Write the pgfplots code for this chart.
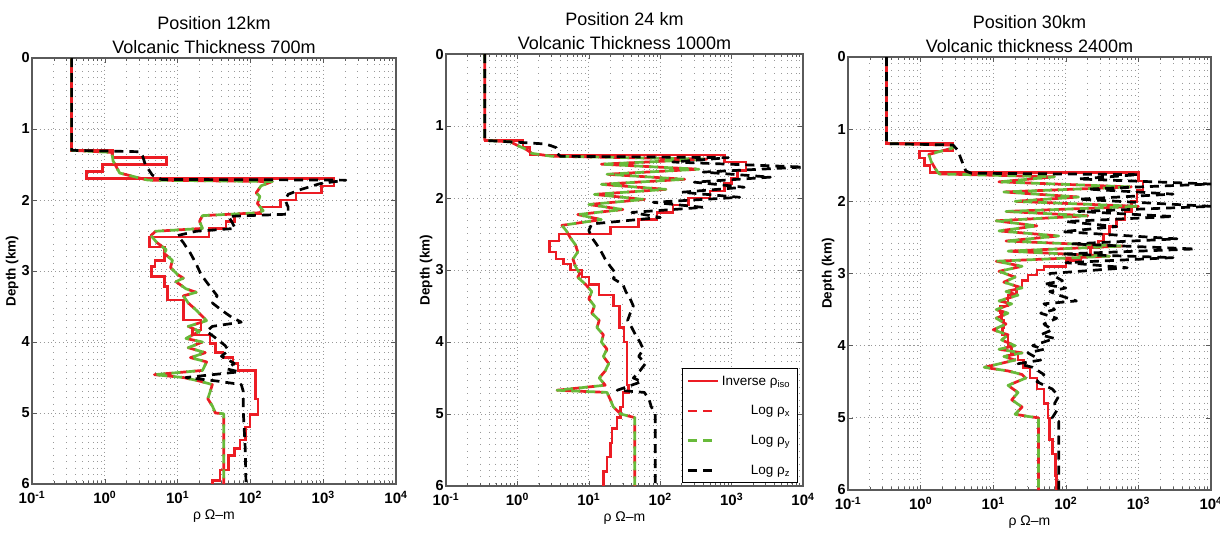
\documentclass[border=0pt]{standalone}
\usepackage{fontspec}
\setmainfont{Liberation Sans}
\usepackage{pgfplots}
\pgfplotsset{compat=1.18}
\definecolor{mred}{RGB}{236,28,36}
\definecolor{mgreen}{RGB}{104,186,58}
\definecolor{axgray}{RGB}{90,90,90}
\pgfplotsset{
  myprofile/.style={
    scale only axis, xmin=0.1, xmax=10000, ymin=0, ymax=6, y dir=reverse,
    xtick={0.1,1,10,100,1000,10000},
    xticklabels={10\textsuperscript{-1},10\textsuperscript{0},10\textsuperscript{1},10\textsuperscript{2},10\textsuperscript{3},10\textsuperscript{4}},
    minor xtick={0.2,0.3,0.4,0.5,0.6,0.7,0.8,0.9,2,3,4,5,6,7,8,9,20,30,40,50,60,70,80,90,200,300,400,500,600,700,800,900,2000,3000,4000,5000,6000,7000,8000,9000},
    ytick={0,1,2,3,4,5,6},
    yticklabels={0,1,2,3,4,5,6},
    yticklabel style={font=\bfseries\fontsize{14.5}{14.5}\selectfont, inner sep=2pt},
    xticklabel style={font=\bfseries\fontsize{15}{15}\selectfont, inner sep=2pt, yshift=-5pt},
    xmajorgrids, xminorgrids, ymajorgrids,
    major grid style={gray!80, line width=0.9pt, dash pattern=on 0.9pt off 3pt},
    minor grid style={gray!80, line width=0.9pt, dash pattern=on 0.9pt off 5.5pt},
    tick align=inside, major tick length=5pt, minor tick length=3pt,
    tick style={axgray, line width=0.6pt},
    axis line style={axgray, line width=1.2pt},
    xlabel={ρ Ω–m}, ylabel={Depth (km)},
    xlabel style={font=\fontsize{14}{14}\selectfont, inner sep=1pt, yshift=-3pt},
    ylabel style={font=\bfseries\fontsize{13.5}{14}\selectfont, inner sep=1pt},
    title style={font=\fontsize{18}{24}\selectfont, align=center, inner sep=0pt, yshift=-2pt},
    legend image code/.code={\draw[##1, dash phase=0pt] (0pt,0pt) -- (30pt,0pt);},
  },
  rsol/.style={mred, line width=2.5pt, const plot mark right, no markers},
  rdash/.style={mred, line width=2.7pt, dash pattern=on 9pt off 6pt, dash phase=7pt, line join=round, no markers},
  gdash/.style={mgreen, line width=2.7pt, dash pattern=on 9pt off 6pt, line join=round, no markers},
  kdash/.style={black, line width=2.7pt, dash pattern=on 9pt off 6pt, line join=round, no markers},
}
\begin{document}
\begin{tikzpicture}
\path[use as bounding box] (0,0) rectangle (1220pt,538pt);
% ---------------- Panel 1
\begin{semilogxaxis}[myprofile, at={(32pt,54pt)}, anchor=south west, width=364pt, height=426pt,
  title={Position 12km\\Volcanic Thickness 700m}]
\addplot[rsol] coordinates {(0.35,0) (1.3,1.3) (7.0,1.4) (0.93,1.5) (0.56,1.6) (1400,1.7) (950,1.8) (420,1.9) (260,2.0) (140,2.1) (60,2.2) (46,2.3) (27,2.4) (4.1,2.52) (6.6,2.66) (4.9,2.85) (4.4,2.94) (6.6,3.08) (7.3,3.22) (12,3.41) (21,3.69) (16,3.83) (28,3.9) (33,4.02) (42,4.15) (58,4.22) (68,4.3) (118,4.4) (128,4.8) (98,5.02) (85,5.2) (72,5.38) (60,5.5) (50,5.6) (38,5.8) (30,5.95) (30,6)};
\addplot[rdash] coordinates {(0.35,0) (0.35,1.3) (1.25,1.33) (1.3,1.45) (1.6,1.62) (3.9,1.72) (200,1.74) (140,1.8) (120,1.9) (135,1.95) (125,2.05) (150,2.15) (130,2.18) (22,2.22) (20,2.3) (22,2.4) (5.0,2.44) (4.3,2.5) (5.2,2.6) (7,2.7) (6.5,2.75) (8.5,2.85) (8,2.95) (10,3.05) (12,3.1) (9.5,3.15) (13,3.25) (18,3.3) (12,3.35) (14,3.45) (18,3.55) (21,3.62) (25,3.7) (14,3.78) (20,3.85) (13,3.95) (22,4.0) (14,4.08) (24,4.15) (15,4.22) (25,4.28) (22,4.4) (4.8,4.46) (12,4.5) (20,4.55) (30,4.6) (28,4.7) (26,4.8) (30,4.9) (33,5.0) (43,5.01) (43,6)};
\addplot[gdash] coordinates {(0.35,0) (0.35,1.3) (1.25,1.33) (1.3,1.45) (1.6,1.62) (3.9,1.72) (200,1.74) (140,1.8) (120,1.9) (135,1.95) (125,2.05) (150,2.15) (130,2.18) (22,2.22) (20,2.3) (22,2.4) (5.0,2.44) (4.3,2.5) (5.2,2.6) (7,2.7) (6.5,2.75) (8.5,2.85) (8,2.95) (10,3.05) (12,3.1) (9.5,3.15) (13,3.25) (18,3.3) (12,3.35) (14,3.45) (18,3.55) (21,3.62) (25,3.7) (14,3.78) (20,3.85) (13,3.95) (22,4.0) (14,4.08) (24,4.15) (15,4.22) (25,4.28) (22,4.4) (4.8,4.46) (12,4.5) (20,4.55) (30,4.6) (28,4.7) (26,4.8) (30,4.9) (33,5.0) (43,5.01) (43,6)};
\addplot[kdash] coordinates {(0.35,0) (0.35,1.3) (3.0,1.32) (3.3,1.38) (3.6,1.5) (4.5,1.65) (6,1.71) (2050,1.72) (900,1.77) (500,1.85) (330,1.92) (300,2.0) (330,2.1) (330,2.2) (50,2.23) (55,2.3) (62,2.4) (18,2.44) (10,2.5) (12,2.6) (15,2.75) (18,2.9) (21,3.05) (27,3.2) (35,3.35) (30,3.45) (40,3.55) (55,3.65) (75,3.72) (30,3.78) (25,3.85) (34,3.95) (45,4.05) (50,4.12) (40,4.2) (60,4.3) (48,4.38) (70,4.42) (13,4.5) (35,4.55) (75,4.6) (80,4.7) (80,5.0) (85,5.5) (87,6)};
\end{semilogxaxis}
% ---------------- Panel 2
\begin{semilogxaxis}[myprofile, at={(446pt,52pt)}, anchor=south west, width=357pt, height=432pt,
  title={Position 24 km\\Volcanic Thickness 1000m},
  legend style={at={(0.985,0.006)}, anchor=south east, draw=black, line width=1.1pt,
    font=\fontsize{13.5}{15}\selectfont, row sep=15pt, inner sep=5pt, fill=white},
  legend cell align=right]
\addplot[rsol] coordinates {(0.35,0) (1.2,1.2) (1.5,1.3) (800,1.4) (1600,1.5) (1200,1.62) (1000,1.72) (800,1.8) (500,1.9) (250,2.0) (150,2.1) (90,2.2) (50,2.3) (20,2.4) (3.8,2.5) (2.8,2.6) (3.5,2.75) (4.4,2.85) (5.5,2.92) (8,3.0) (10,3.1) (14,3.2) (22,3.35) (27,3.5) (31,3.8) (34,4.0) (36,4.6) (30,4.7) (28,4.9) (25,5.05) (21,5.2) (20,5.4) (18,5.6) (16,5.8) (16,6)};
\addlegendentry{Inverse ρ\textsubscript{iso}}
\addplot[rdash] coordinates {(0.35,0) (0.35,1.2) (0.8,1.22) (1.0,1.27) (1.3,1.32) (1.6,1.38) (3.0,1.42) (450,1.46) (15,1.53) (350,1.6) (18,1.67) (220,1.74) (15,1.81) (120,1.88) (12,1.95) (60,2.02) (10,2.09) (30,2.16) (7,2.23) (15,2.3) (4.2,2.38) (4.8,2.45) (5.5,2.55) (6.5,2.65) (7,2.75) (6,2.85) (6.5,2.95) (7.5,3.05) (7,3.1) (9,3.2) (11,3.3) (10,3.4) (12,3.5) (11,3.6) (14,3.7) (13,3.8) (16,3.9) (15,4.0) (18,4.1) (16,4.2) (19,4.3) (17,4.4) (14,4.5) (17,4.6) (3.6,4.67) (18,4.7) (20,4.8) (22,4.9) (28,5.0) (44,5.05) (44,6)};
\addlegendentry{Log ρ\textsubscript{x}}
\addplot[gdash] coordinates {(0.35,0) (0.35,1.2) (0.8,1.22) (1.0,1.27) (1.3,1.32) (1.6,1.38) (3.0,1.42) (450,1.46) (15,1.53) (350,1.6) (18,1.67) (220,1.74) (15,1.81) (120,1.88) (12,1.95) (60,2.02) (10,2.09) (30,2.16) (7,2.23) (15,2.3) (4.2,2.38) (4.8,2.45) (5.5,2.55) (6.5,2.65) (7,2.75) (6,2.85) (6.5,2.95) (7.5,3.05) (7,3.1) (9,3.2) (11,3.3) (10,3.4) (12,3.5) (11,3.6) (14,3.7) (13,3.8) (16,3.9) (15,4.0) (18,4.1) (16,4.2) (19,4.3) (17,4.4) (14,4.5) (17,4.6) (3.6,4.67) (18,4.7) (20,4.8) (22,4.9) (28,5.0) (44,5.05) (44,6)};
\addlegendentry{Log ρ\textsubscript{y}}
\addplot[kdash] coordinates {(0.35,0) (0.35,1.2) (1.2,1.23) (2.5,1.25) (3.5,1.3) (3.6,1.38) (4,1.42) (900,1.44) (150,1.5) (10000,1.57) (400,1.64) (3500,1.71) (300,1.78) (1500,1.85) (200,1.92) (1300,1.99) (80,2.06) (400,2.13) (40,2.2) (100,2.27) (11,2.36) (10,2.45) (11,2.55) (13,2.65) (15,2.75) (17,2.85) (20,2.95) (24,3.05) (22,3.12) (30,3.2) (33,3.3) (38,3.4) (42,3.5) (38,3.6) (35,3.7) (40,3.8) (45,3.9) (52,4.0) (58,4.1) (50,4.2) (62,4.3) (52,4.4) (42,4.5) (55,4.55) (25,4.67) (60,4.7) (70,4.8) (75,4.9) (85,5.0) (85,6)};
\addlegendentry{Log ρ\textsubscript{z}}
\end{semilogxaxis}
% ---------------- Panel 3
\begin{semilogxaxis}[myprofile, at={(848pt,48pt)}, anchor=south west, width=363pt, height=433pt,
  title={Position 30km\\Volcanic thickness 2400m}]
\addplot[rsol] coordinates {(0.34,0) (2.8,1.2) (0.97,1.3) (1.14,1.4) (1.35,1.5) (1000,1.6) (1150,1.72) (950,1.85) (800,2.0) (650,2.15) (500,2.25) (400,2.35) (330,2.45) (280,2.55) (220,2.65) (160,2.75) (100,2.82) (50,2.9) (40,2.95) (30,3.02) (25,3.1) (21,3.2) (16,3.3) (12.5,3.45) (13,3.55) (14,3.65) (13.5,3.75) (16,3.85) (18,4.0) (22,4.1) (26,4.2) (32,4.3) (40,4.45) (50,4.6) (57,4.8) (60,5.0) (66,5.3) (72,5.5) (75,5.8) (75,6)};
\addplot[rdash] coordinates {(0.34,0) (0.34,1.2) (2.6,1.22) (2.8,1.26) (1.3,1.35) (1.4,1.45) (1.6,1.55) (1.8,1.62) (70,1.66) (12,1.73) (800,1.8) (14,1.87) (150,1.94) (20,2.0) (1000,2.07) (15,2.14) (200,2.2) (11,2.27) (40,2.34) (12,2.41) (80,2.48) (15,2.55) (600,2.62) (16,2.69) (400,2.76) (11,2.83) (25,2.9) (12,2.97) (20,3.05) (14,3.12) (25,3.2) (15,3.25) (22,3.3) (12,3.38) (18,3.42) (11,3.5) (16,3.55) (11,3.62) (15,3.7) (10,3.78) (16,3.85) (13,3.92) (20,4.0) (12,4.05) (25,4.1) (14,4.15) (20,4.2) (7.5,4.3) (16,4.35) (25,4.4) (28,4.45) (16,4.55) (22,4.65) (18,4.75) (25,4.85) (20,4.95) (30,4.98) (42,5.0) (42,6)};
\addplot[gdash] coordinates {(0.34,0) (0.34,1.2) (2.6,1.22) (2.8,1.26) (1.3,1.35) (1.4,1.45) (1.6,1.55) (1.8,1.62) (70,1.66) (12,1.73) (800,1.8) (14,1.87) (150,1.94) (20,2.0) (1000,2.07) (15,2.14) (200,2.2) (11,2.27) (40,2.34) (12,2.41) (80,2.48) (15,2.55) (600,2.62) (16,2.69) (400,2.76) (11,2.83) (25,2.9) (12,2.97) (20,3.05) (14,3.12) (25,3.2) (15,3.25) (22,3.3) (12,3.38) (18,3.42) (11,3.5) (16,3.55) (11,3.62) (15,3.7) (10,3.78) (16,3.85) (13,3.92) (20,4.0) (12,4.05) (25,4.1) (14,4.15) (20,4.2) (7.5,4.3) (16,4.35) (25,4.4) (28,4.45) (16,4.55) (22,4.65) (18,4.75) (25,4.85) (20,4.95) (30,4.98) (42,5.0) (42,6)};
\addplot[kdash] coordinates {(0.34,0) (0.34,1.2) (2.8,1.22) (3.3,1.3) (3.5,1.38) (3.9,1.5) (4.2,1.58) (5,1.61) (1000,1.63) (150,1.69) (10000,1.76) (200,1.83) (3000,1.9) (150,1.97) (10000,2.07) (150,2.14) (3000,2.21) (100,2.28) (500,2.35) (90,2.42) (3400,2.52) (120,2.59) (6000,2.66) (90,2.73) (3000,2.78) (100,2.85) (700,2.92) (60,3.0) (90,3.1) (50,3.15) (100,3.2) (60,3.25) (80,3.3) (140,3.38) (50,3.42) (70,3.5) (45,3.55) (75,3.62) (50,3.7) (65,3.78) (45,3.85) (70,3.9) (35,4.0) (50,4.05) (30,4.1) (45,4.2) (22,4.25) (35,4.3) (50,4.4) (40,4.5) (65,4.6) (80,4.7) (70,4.8) (75,4.9) (65,5.0) (80,5.05) (80,6)};
\end{semilogxaxis}
\end{tikzpicture}
\end{document}
